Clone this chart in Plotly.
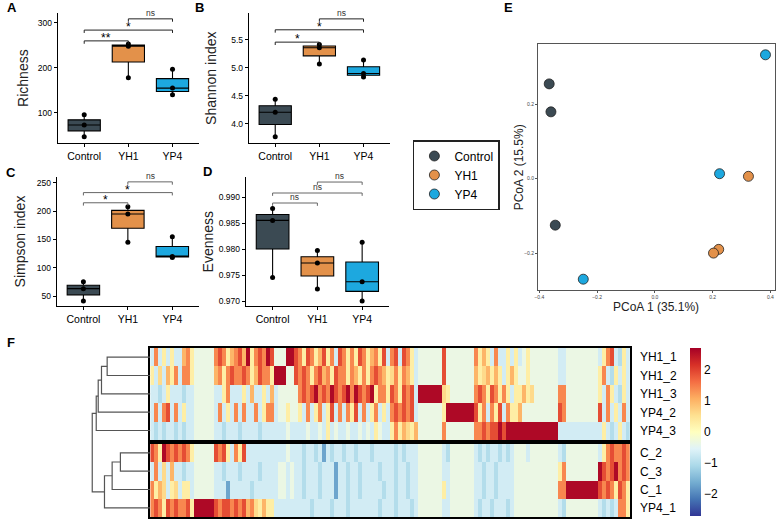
import plotly.graph_objects as go

W, H = 777, 519
FONT = "Liberation Sans, Arial, Helvetica, sans-serif"

# ---------------- data ----------------
groups = ["Control", "YH1", "YP4"]
group_colors = ["#3B4A53", "#E3914A", "#1DA8DF"]

# alpha diversity: three samples per group (Control, YH1, YP4)
richness = [[47, 73, 96], [178, 248, 253], [140, 155, 197]]
shannon = [[3.77, 4.21, 4.44], [5.07, 5.36, 5.42], [4.84, 4.90, 5.14]]
simpson = [[41, 63, 75], [145, 195, 208], [118, 120, 155]]
evenness = [[0.9745, 0.9855, 0.9878], [0.9723, 0.9773, 0.9797], [0.9700, 0.9737, 0.9813]]

sig_pairs = [(1, 2), (1, 3), (2, 3)]
richness_sig = ["**", "*", "ns"]
richness_sig_y = [260, 284, 309]
shannon_sig = ["*", "*", "ns"]
shannon_sig_y = [5.46, 5.68, 5.875]
simpson_sig = ["*", "*", "ns"]
simpson_sig_y = [215, 233, 252]
evenness_sig = ["ns", "ns", "ns"]
evenness_sig_y = [0.98885, 0.99077, 0.99288]

# PCoA coordinates
pcoa_control_x = [-0.366, -0.360, -0.345]
pcoa_control_y = [0.254, 0.179, -0.125]
pcoa_yh1_x = [0.324, 0.221, 0.203]
pcoa_yh1_y = [0.006, -0.190, -0.200]
pcoa_yp4_x = [0.383, 0.224, -0.248]
pcoa_yp4_y = [0.332, 0.013, -0.270]

# heatmap: one character per column, mapped to scaled abundance
level_values = {".": -0.35, "c": -0.68, "b": -1.0, "B": -1.7,
                "y": 0.3, "Y": 0.6, "o": 1.0, "O": 1.4, "r": 1.9, "R": 2.6}
top_rows = ["YH1_1", "YH1_2", "YH1_3", "YP4_2", "YP4_3"]
bottom_rows = ["C_2", "C_3", "C_1", "YP4_1"]
heat_top = [
    "cOcycyccoOy" "....." "OrOyoOroRyOrOR" "r...RRr" "OyrOyoryOcrOyOyrOyoOyrc" "OrcrOyc" "......" "r." "......" "OyoycOccyc" "yc.y......." "cc" "........" "cyOrcbyc",
    "ycYcoyOcOOy" "....." "oOyOrOOrOyorOO" "yRRR..r" "OrOyOroOyrOOyOoyOyOrOoy" "YOyOoyc" "......" "r." "......" "oyYoyoycyo" "y..y......." "cc" "........" "yOcbycyc",
    "ccbcycccbcc" "....." "ccyOcccycoccyc" "oc....." "OrOrROrORrOrRORrOrRyOOy" "rOyrOrc" "RRRRRR" "Yy" "......" "OrOyrOyOyc" "yyoyY......" "OO" "........" "ycOycbyc",
    "cOcOrcOcycc" "....." "cOcycOcOccOcyO" "Oc..y.." "ycOcyOcyrcOcOyrcOcyOcyc" "OrOrOrc" "......" "yR" "RRRRRR" "ryOcOyrcOy" "yo........." "rO" "........" "rcOcycOc",
    "cbcbccbcbcc" "....." "ccbcccbccccbcc" "cccc.cc" "cc.cc.cyc.cc.cc.c.cy.cc" "yOyoYyo" "......" "O." "......" "OOrOrrRrRR" "RRRRRRRRRRR" "cc" "cccccccc" "cycbcycb",
]
heat_bottom = [
    "rOyRrOrOrOy" "....." "rOrycOyrcccccc" "cccc.cc" "cbccbcBcbccbccbcccbcccc" "cbcbccc" "......" "cb" "......" "cbcbccbcbc" "...c......." "cb" "........" "cyOrOOrO",
    "cOcYcoccbcc" "....." "ccbcccbccccbcc" "cc..c.c" "cbcccbcccBccbccbccccbcc" "cbccbcc" "......" "cc" "......" "ccbccbcccc" "..........." "yO" "........" "RrOrROrO",
    "OyoYcyYcyyc" "....." "cccBcccccbcccc" "cc..c.c" "cbcccbcccBccbccbcccccbc" "cbccbcc" "......" "yc" "......" "ccbccbcccc" "..........." "OO" "RRRRRRRR" "rOrOyrOy",
    "OrOyrOrOOry" "RRRRR" "rOrrOrOroOYyoy" "ycccccc" "cccbccccbcccbcccccccbcc" "cbcccbc" "......" "cc" "......" "cbccbcccbc" "..........." "cb" "........" "cbcbcOOy",
]
colorbar_ticks = [-2, -1, 0, 1, 2]
rdylbu = ["#313695", "#4575B4", "#74ADD1", "#ABD9E9", "#E0F3F8", "#FFFFBF",
          "#FEE090", "#FDAE61", "#F46D43", "#D73027", "#A50026"]

# dendrogram: leaves in display order, merges (child a, child b, height)
dendro_leaves = top_rows + bottom_rows
dendro_merges = [(0, 1, 43.3), (9, 2, 49.0), (10, 3, 52.3), (11, 4, 54.3),
                 (5, 6, 30.0), (13, 7, 38.3), (14, 8, 46.0), (12, 15, 58.3)]

# ---------------- helpers ----------------
def px_x(a, b):
    return [a / W, b / W]


def px_y(top, bottom):
    return [1 - bottom / H, 1 - top / H]


def paper_text(x, y, text, size, color="black", angle=0):
    return dict(x=x / W, y=1 - y / H, xref="paper", yref="paper", text=text,
                textangle=angle, showarrow=False, xanchor="center", yanchor="middle",
                font=dict(size=size, color=color, family=FONT))


fig = go.Figure()
layout = dict(
    width=W, height=H, margin=dict(l=0, r=0, t=0, b=0),
    paper_bgcolor="white", plot_bgcolor="white",
    font=dict(family=FONT, color="black"),
    showlegend=True,
)
annotations = []

panels = [
    dict(label="A", vals=richness, sig=richness_sig, sig_y=richness_sig_y, xd=(54, 196), yd=(13, 143),
         yr=(33, 322), tv=[100, 200, 300], fmt="d", title="Richness", tx=19, lab=(8, 7), bc="#222"),
    dict(label="B", vals=shannon, sig=shannon_sig, sig_y=shannon_sig_y, xd=(246, 388), yd=(13, 143),
         yr=(3.66, 5.98), tv=[4.0, 4.5, 5.0, 5.5], fmt=".1f", title="Shannon index", tx=208, lab=(197, 7), bc="#222"),
    dict(label="C", vals=simpson, sig=simpson_sig, sig_y=simpson_sig_y, xd=(53, 196), yd=(177, 306),
         yr=(32.3, 260.6), tv=[50, 100, 150, 200, 250], fmt="d", title="Simpson index", tx=16, lab=(7, 172), bc="#666"),
    dict(label="D", vals=evenness, sig=evenness_sig, sig_y=evenness_sig_y, xd=(243, 387), yd=(177, 306),
         yr=(0.96904, 0.99385), tv=[0.970, 0.975, 0.980, 0.985, 0.990], fmt=".3f", title="Evenness", tx=205, lab=(205, 171), bc="#666"),
]

for i, p in enumerate(panels, start=1):
    xa = "x" if i == 1 else f"x{i}"
    ya = "y" if i == 1 else f"y{i}"
    for g, (name, col) in enumerate(zip(groups, group_colors)):
        fig.add_trace(go.Box(
            y=p["vals"][g], x=[g + 1] * len(p["vals"][g]), name=name,
            xaxis=xa, yaxis=ya, width=0.73, fillcolor=col,
            line=dict(color="black", width=1.1), whiskerwidth=0,
            boxpoints="all", jitter=0, pointpos=0, quartilemethod="inclusive",
            marker=dict(color="black", size=5), showlegend=False, hoverinfo="y",
        ))
    span = p["yr"][1] - p["yr"][0]
    tick = 0.022 * span
    bx, by = [], []
    for (a, b), h, txt in zip(sig_pairs, p["sig_y"], p["sig"]):
        bx += [a, a, b, b, None]
        by += [h - tick, h, h, h - tick, None]
        star = txt != "ns"
        annotations.append(dict(
            x=(a + b) / 2, y=h, xref=xa, yref=ya, text=txt, showarrow=False,
            xanchor="center", yanchor="bottom", yshift=-6 if star else -1,
            font=dict(size=12 if star else 8.5, color="black" if star else "#333", family=FONT),
        ))
    fig.add_trace(go.Scatter(x=bx, y=by, mode="lines", xaxis=xa, yaxis=ya,
                             line=dict(color=p["bc"], width=1), showlegend=False, hoverinfo="skip"))
    xk = "xaxis" if i == 1 else f"xaxis{i}"
    yk = "yaxis" if i == 1 else f"yaxis{i}"
    layout[xk] = dict(domain=px_x(*p["xd"]), anchor=ya, range=[0.4, 3.6],
                      tickvals=[1, 2, 3], ticktext=groups, ticks="outside", ticklen=3,
                      tickcolor="black", showline=True, linecolor="black", linewidth=1,
                      showgrid=False, zeroline=False, tickfont=dict(size=10.5, color="black"))
    layout[yk] = dict(domain=px_y(*p["yd"]), anchor=xa, range=list(p["yr"]),
                      tickvals=p["tv"], tickformat=p["fmt"], ticks="outside", ticklen=3,
                      tickcolor="black", showline=True, linecolor="black", linewidth=1,
                      showgrid=False, zeroline=False, tickfont=dict(size=8.5, color="black"))
    annotations.append(paper_text(p["tx"], (p["yd"][0] + p["yd"][1]) / 2, p["title"], 14, "#222", -90))
    annotations.append(paper_text(p["lab"][0], p["lab"][1], "<b>%s</b>" % p["label"], 13))

# ---------------- E: PCoA ----------------
for name, col, xs, ys in [("Control", group_colors[0], pcoa_control_x, pcoa_control_y),
                          ("YH1", group_colors[1], pcoa_yh1_x, pcoa_yh1_y),
                          ("YP4", group_colors[2], pcoa_yp4_x, pcoa_yp4_y)]:
    fig.add_trace(go.Scatter(x=xs, y=ys, mode="markers", name=name, xaxis="x5", yaxis="y5",
                             marker=dict(color=col, size=10, line=dict(color="#222", width=0.8))))
layout["xaxis5"] = dict(domain=px_x(537, 775), anchor="y5", range=[-0.404, 0.416],
                        tickvals=[-0.4, -0.2, 0.0, 0.2, 0.4], tickformat=".1f",
                        ticks="outside", ticklen=2, tickcolor="#555", showline=True, mirror=True,
                        linecolor="#555", linewidth=1.4, showgrid=False, zeroline=False,
                        tickfont=dict(size=5, color="#444"))
layout["yaxis5"] = dict(domain=px_y(44, 290), anchor="x5", range=[-0.299, 0.361],
                        tickvals=[-0.2, 0.0, 0.2], tickformat=".1f",
                        ticks="outside", ticklen=2, tickcolor="#555", showline=True, mirror=True,
                        linecolor="#555", linewidth=1.4, showgrid=False, zeroline=False,
                        tickfont=dict(size=5, color="#444"))
annotations.append(paper_text(655, 307, "PCoA 1 (35.1%)", 12, "#222"))
annotations.append(paper_text(518, 167, "PCoA 2 (15.5%)", 12, "#222", -90))
annotations.append(paper_text(507, 7, "<b>E</b>", 13))
layout["legend"] = dict(x=411 / W, y=1 - 140 / H, xanchor="left", yanchor="top",
                        bordercolor="#222", borderwidth=1.5, bgcolor="white",
                        font=dict(size=12, color="black", family=FONT), tracegroupgap=0)

# ---------------- F: heatmap ----------------
ncol = len(heat_top[0])
cols = list(range(ncol))
z_top = [[level_values[ch] for ch in row] for row in heat_top]
z_bot = [[level_values[ch] for ch in row] for row in heat_bottom]
fig.add_trace(go.Heatmap(z=z_top, x=cols, y=top_rows, xaxis="x6", yaxis="y6",
                         coloraxis="coloraxis", hoverinfo="skip"))
fig.add_trace(go.Heatmap(z=z_bot, x=cols, y=bottom_rows, xaxis="x7", yaxis="y7",
                         coloraxis="coloraxis", hoverinfo="skip"))
zmin, zmax = -2.7, 2.7
layout["coloraxis"] = dict(
    cmin=zmin, cmax=zmax,
    colorscale=[[k / (len(rdylbu) - 1), c] for k, c in enumerate(rdylbu)],
    colorbar=dict(x=690 / W, xanchor="left", y=1 - 348 / H, yanchor="top", len=168 / H,
                  lenmode="fraction", thickness=11, outlinewidth=0, xpad=0, ypad=0,
                  tickvals=colorbar_ticks, ticks="", tickfont=dict(size=12, color="black", family=FONT)),
)
hm_x = dict(domain=px_x(147, 629), range=[-0.5, ncol - 0.5], showticklabels=False, ticks="",
            showline=True, mirror=True, linecolor="black", linewidth=1.5, showgrid=False, zeroline=False)
layout["xaxis6"] = dict(hm_x, anchor="y6")
layout["xaxis7"] = dict(hm_x, anchor="y7")
hm_y = dict(side="right", autorange="reversed", ticks="outside", ticklen=6, tickcolor="rgba(0,0,0,0)",
            showline=True, mirror=True, linecolor="black", linewidth=1.5, showgrid=False, zeroline=False,
            tickfont=dict(size=12, color="black", family=FONT))
layout["yaxis6"] = dict(hm_y, domain=px_y(348, 440), anchor="x6")
layout["yaxis7"] = dict(hm_y, domain=px_y(444, 517), anchor="x7")
annotations.append(paper_text(7, 342, "<b>F</b>", 13))

# ---------------- dendrogram ----------------
gap = 4 / 18.4
node_y = [float(k) for k in range(len(top_rows))] + [len(top_rows) + gap + k for k in range(len(bottom_rows))]
node_h = [0.0] * len(dendro_leaves)
dx, dy = [], []
for a, b, h in dendro_merges:
    dx += [node_h[a], h, h, node_h[b], None]
    dy += [node_y[a], node_y[a], node_y[b], node_y[b], None]
    node_y.append((node_y[a] + node_y[b]) / 2)
    node_h.append(h)
fig.add_trace(go.Scatter(x=dx, y=dy, mode="lines", xaxis="x8", yaxis="y8",
                         line=dict(color="#555", width=1.2), showlegend=False, hoverinfo="skip"))
layout["xaxis8"] = dict(domain=px_x(87, 147), anchor="y8", range=[60, 0], visible=False)
layout["yaxis8"] = dict(domain=px_y(348, 517), anchor="x8",
                        range=[len(dendro_leaves) - 0.5 + gap, -0.5], visible=False)

layout["annotations"] = annotations
fig.update_layout(**layout)
fig.write_html("out.html", config={"displayModeBar": False},
               post_script="document.body.style.margin='0';document.body.style.padding='0';")
